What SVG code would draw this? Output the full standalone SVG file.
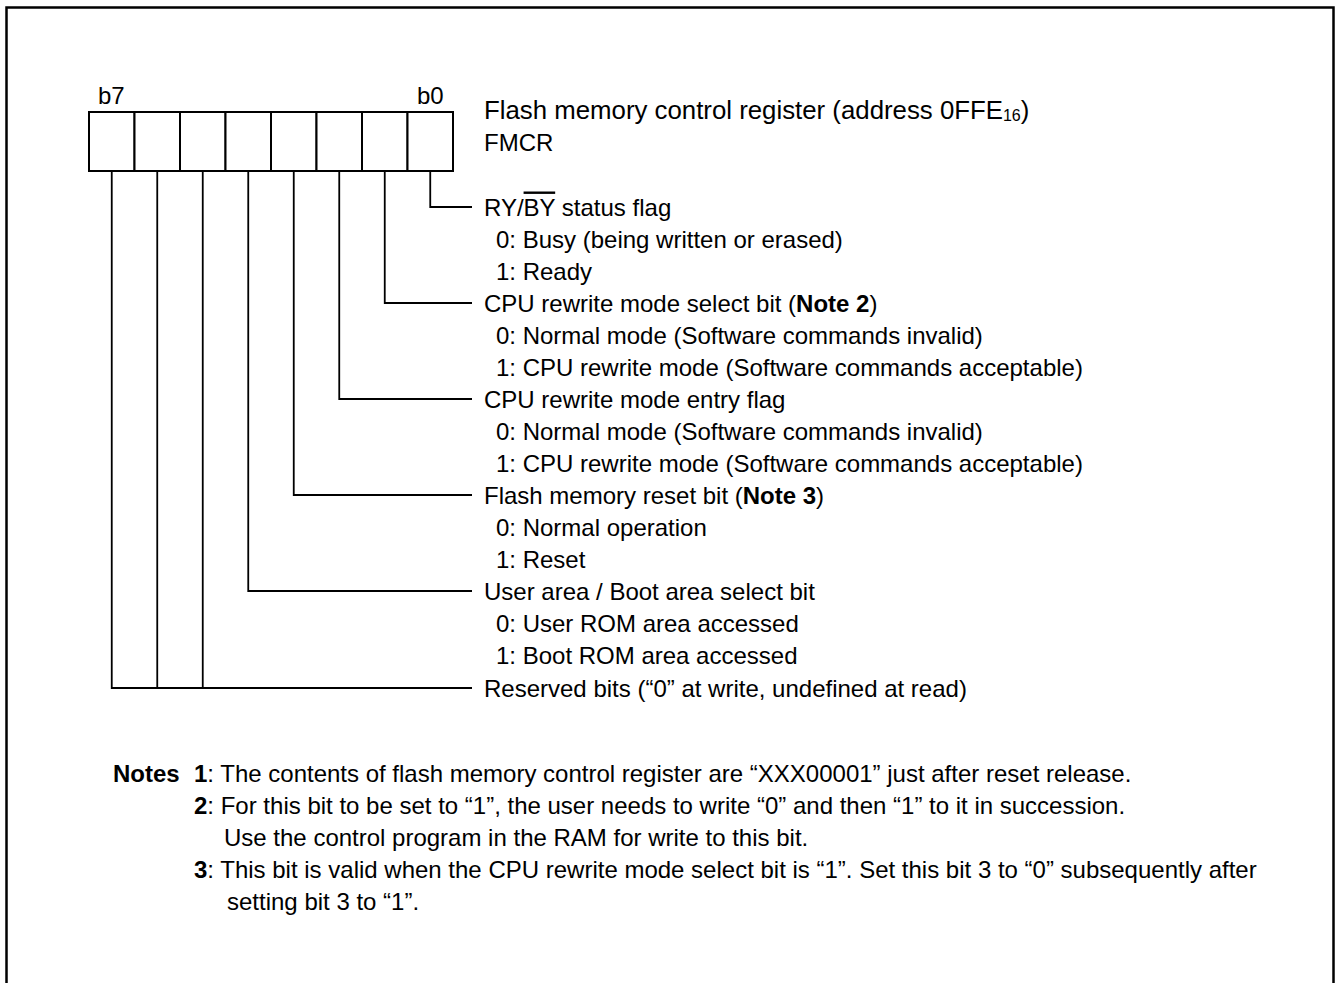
<svg xmlns="http://www.w3.org/2000/svg" width="1337" height="983" viewBox="0 0 1337 983">
<style>
text{font-family:"Liberation Sans",Arial,sans-serif;font-size:24px;fill:#000}
.b{font-weight:bold}
.cell{fill:#fff;stroke:#000;stroke-width:2}
.conn{fill:none;stroke:#000;stroke-width:1.8}
.ov{text-decoration:overline}
</style>
<rect x="6.5" y="7.5" width="1327" height="1000" fill="#fff" stroke="#000" stroke-width="2.5"/>
<g id="register">
<text x="98" y="104">b7</text>
<text x="417" y="104">b0</text>
<rect class="cell" x="89" y="112" width="45.5" height="59"/>
<rect class="cell" x="134.5" y="112" width="45.5" height="59"/>
<rect class="cell" x="180" y="112" width="45.5" height="59"/>
<rect class="cell" x="225.5" y="112" width="45.5" height="59"/>
<rect class="cell" x="271" y="112" width="45.5" height="59"/>
<rect class="cell" x="316.5" y="112" width="45.5" height="59"/>
<rect class="cell" x="362" y="112" width="45.5" height="59"/>
<rect class="cell" x="407.5" y="112" width="45.5" height="59"/>
<text x="484" y="119" style="font-size:25.8px">Flash memory control register (address 0FFE<tspan font-size="16" dy="2">16</tspan><tspan dy="-2">)</tspan></text>
<text x="484" y="151">FMCR</text>
</g>
<g id="connectors">
<polyline class="conn" points="430.25,171 430.25,207 472,207"/>
<polyline class="conn" points="384.75,171 384.75,303 472,303"/>
<polyline class="conn" points="339.25,171 339.25,399 472,399"/>
<polyline class="conn" points="293.75,171 293.75,495 472,495"/>
<polyline class="conn" points="248.25,171 248.25,591 472,591"/>
<polyline class="conn" points="111.75,171 111.75,688 472,688"/>
<line class="conn" x1="157.25" y1="171" x2="157.25" y2="688"/>
<line class="conn" x1="202.75" y1="171" x2="202.75" y2="688"/>
</g>
<g id="bit0">
<text x="484" y="215.5">RY/<tspan class="ov">BY</tspan> status flag</text>
<text x="496" y="247.5">0: Busy (being written or erased)</text>
<text x="496" y="279.5">1: Ready</text>
</g>
<g id="bit1">
<text x="484" y="311.5">CPU rewrite mode select bit (<tspan class="b">Note 2</tspan>)</text>
<text x="496" y="343.5">0: Normal mode (Software commands invalid)</text>
<text x="496" y="375.5">1: CPU rewrite mode (Software commands acceptable)</text>
</g>
<g id="bit2">
<text x="484" y="407.5">CPU rewrite mode entry flag</text>
<text x="496" y="439.5">0: Normal mode (Software commands invalid)</text>
<text x="496" y="471.5">1: CPU rewrite mode  (Software commands acceptable)</text>
</g>
<g id="bit3">
<text x="484" y="503.5">Flash memory reset bit (<tspan class="b">Note 3</tspan>)</text>
<text x="496" y="535.5">0: Normal operation</text>
<text x="496" y="567.5">1: Reset</text>
</g>
<g id="bit4">
<text x="484" y="599.5">User area / Boot area select bit</text>
<text x="496" y="631.5">0: User ROM area accessed</text>
<text x="496" y="663.5">1: Boot ROM area accessed</text>
</g>
<g id="bits567">
<text x="484" y="696.5">Reserved bits (“0” at write, undefined at read)</text>
</g>
<g id="notes">
<text x="113" y="782" class="b">Notes</text>
<text x="194" y="782"><tspan class="b">1</tspan>: The contents of flash memory control register are “XXX00001” just after reset release.</text>
<text x="194" y="814"><tspan class="b">2</tspan>: For this bit to be set to “1”, the user needs to write “0” and then “1” to it in succession.</text>
<text x="224" y="846">Use the control program in the RAM for write to this bit.</text>
<text x="194" y="878"><tspan class="b">3</tspan>: This bit is valid when the CPU rewrite mode select bit is “1”. Set this bit 3 to “0” subsequently after</text>
<text x="227" y="910">setting bit 3 to “1”.</text>
</g>
</svg>
